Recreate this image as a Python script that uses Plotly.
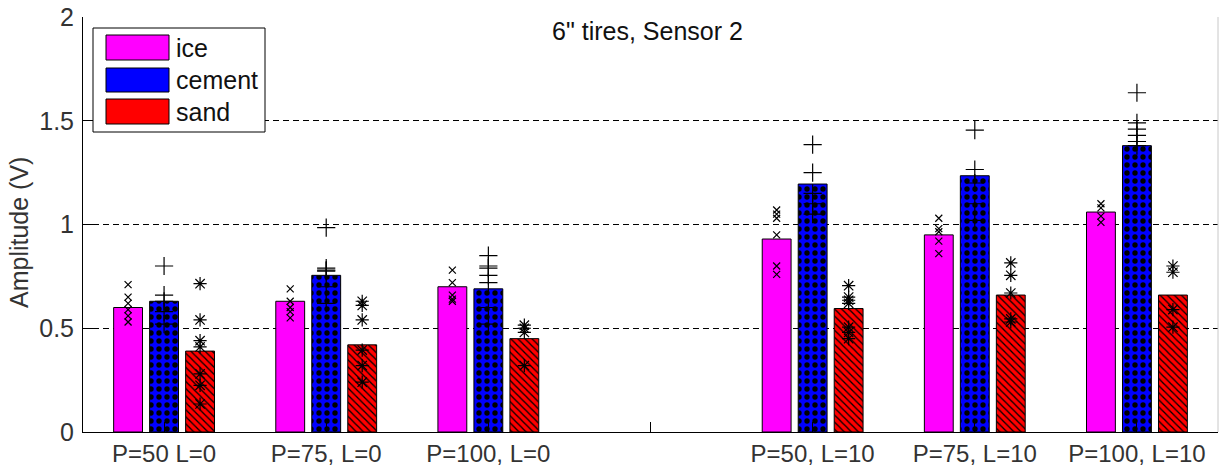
import plotly.graph_objects as go

# Test conditions (tire pressure P, load L) and surfaces
conditions = ["P=50 L=0", "P=75, L=0", "P=100, L=0",
              "P=50, L=10", "P=75, L=10", "P=100, L=10"]
surfaces = ["ice", "cement", "sand"]

# Mean amplitude per condition (V)
ice_mean = [0.60, 0.63, 0.70, 0.93, 0.95, 1.06]
cement_mean = [0.63, 0.755, 0.69, 1.195, 1.235, 1.38]
sand_mean = [0.39, 0.42, 0.45, 0.595, 0.66, 0.66]

# Individual runs per condition (V)
ice_runs = [
    [0.71, 0.65, 0.62, 0.59, 0.56, 0.53],
    [0.69, 0.63, 0.60, 0.58, 0.55],
    [0.78, 0.72, 0.66, 0.64, 0.63],
    [1.07, 1.05, 1.03, 0.95, 0.80, 0.76],
    [1.03, 0.98, 0.965, 0.92, 0.86],
    [1.10, 1.08, 1.04, 1.01],
]
cement_runs = [
    [0.80, 0.66, 0.63, 0.58, 0.52],
    [0.985, 0.79, 0.78, 0.775, 0.70, 0.62],
    [0.85, 0.80, 0.79, 0.755, 0.72, 0.60, 0.52],
    [1.385, 1.25, 1.15, 1.10, 1.05],
    [1.455, 1.265, 1.20, 1.10, 1.02],
    [1.635, 1.49, 1.46, 1.43, 1.40, 1.38],
]
sand_runs = [
    [0.715, 0.54, 0.44, 0.41, 0.28, 0.225, 0.135],
    [0.63, 0.61, 0.54, 0.395, 0.32, 0.24],
    [0.515, 0.50, 0.48, 0.32],
    [0.705, 0.65, 0.635, 0.62, 0.505, 0.48, 0.45],
    [0.815, 0.755, 0.67, 0.545, 0.53],
    [0.80, 0.77, 0.59, 0.505],
]

means = [ice_mean, cement_mean, sand_mean]
runs = [ice_runs, cement_runs, sand_runs]

# Axis slots: three unloaded groups, an empty slot, three loaded groups
slots = [i + 1 if i < 3 else i + 2 for i in range(len(conditions))]
n_slots = len(conditions) + 1

FONT = "Liberation Sans, Arial, sans-serif"
colors = ["#FF00FF", "#0000FF", "#FF0000"]
patterns = [
    dict(shape=""),
    dict(shape=".", fillmode="replace", bgcolor="#0000FF", fgcolor="black",
         size=8, solidity=0.35),
    dict(shape="\\", fillmode="replace", bgcolor="#FF0000", fgcolor="black",
         size=5, solidity=0.25),
]
symbols = ["x-thin-open", "cross-thin-open", "asterisk-open"]
sym_sizes = [7, 13, 11]

spacing = 0.222
bar_w = 0.178

fig = go.Figure()
for k, name in enumerate(surfaces):
    shift = (k - 1) * spacing
    fig.add_trace(go.Bar(
        x=slots, y=means[k], name=name, width=bar_w,
        offset=shift - bar_w / 2,
        marker=dict(color=colors[k], line=dict(color="black", width=1),
                    pattern=patterns[k]),
        showlegend=False,
    ))

for k, name in enumerate(surfaces):
    shift = (k - 1) * spacing
    xs, ys = [], []
    for s, vals in zip(slots, runs[k]):
        xs += [s + shift] * len(vals)
        ys += vals
    fig.add_trace(go.Scatter(
        x=xs, y=ys, mode="markers", showlegend=False,
        marker=dict(symbol=symbols[k], size=sym_sizes[k], color="black",
                    line=dict(color="black", width=1.2)),
    ))

tickvals = list(range(1, n_slots + 1))
ticktext = []
for v in tickvals:
    ticktext.append(conditions[slots.index(v)] if v in slots else "")

# Plot area in pixels (for placing the hand-built legend)
L, R, T, B = 83, 1218, 17, 432
W, H = 1225, 467


def px(x):
    return (x - L) / (R - L)


def py(y):
    return (B - y) / (B - T)


fig.update_layout(
    width=W, height=H,
    margin=dict(l=L, r=W - R, t=T, b=H - B, autoexpand=False),
    barmode="overlay",
    plot_bgcolor="white", paper_bgcolor="white",
    font=dict(family=FONT, size=24, color="#333333"),
    xaxis=dict(range=[0.5, n_slots + 0.5], tickvals=tickvals, ticktext=ticktext,
               ticks="inside", ticklen=10, tickcolor="black",
               showline=True, linecolor="black", linewidth=1,
               showgrid=False, zeroline=False, ticklabelstandoff=0,
               automargin=False,
               tickfont=dict(family=FONT, size=24, color="#333333")),
    yaxis=dict(range=[0, 2], tickvals=[0, 0.5, 1, 1.5, 2],
               ticktext=["0", "0.5", "1", "1.5", "2"],
               ticks="inside", ticklen=10, tickcolor="black",
               showline=True, linecolor="black", linewidth=1,
               showgrid=True, gridcolor="black", griddash="6px,4px", gridwidth=1,
               zeroline=False, ticklabelstandoff=3, automargin=False,
               tickfont=dict(family=FONT, size=25, color="#333333")),
    showlegend=False,
)

# Right border
fig.add_shape(type="line", xref="paper", yref="paper", x0=1, x1=1, y0=0, y1=1,
              line=dict(color="#c8c8c8", width=1))

# Title inside the axes
fig.add_annotation(text="6\" tires, Sensor 2", xref="paper", yref="paper",
                   x=px(647), y=py(31), xanchor="center", yanchor="middle",
                   showarrow=False,
                   font=dict(family=FONT, size=25, color="#111111"))

# Y axis label
fig.add_annotation(text="Amplitude (V)", xref="paper", yref="paper",
                   x=px(19), y=py(233), xanchor="center", yanchor="middle",
                   textangle=-90, showarrow=False,
                   font=dict(family=FONT, size=25, color="#333333"))

# Legend box with solid swatches
fig.add_shape(type="rect", xref="paper", yref="paper",
              x0=px(93), x1=px(265), y0=py(132), y1=py(28),
              fillcolor="white", line=dict(color="black", width=1), layer="above")
swatch_rows = [(35, 60), (68, 92), (99, 124)]
for k, name in enumerate(surfaces):
    y_top, y_bot = swatch_rows[k]
    fig.add_shape(type="rect", xref="paper", yref="paper",
                  x0=px(106), x1=px(169), y0=py(y_bot), y1=py(y_top),
                  fillcolor=colors[k], line=dict(color="black", width=1),
                  layer="above")
    fig.add_annotation(text=name, xref="paper", yref="paper",
                       x=px(174), y=py((y_top + y_bot) / 2),
                       xanchor="left", yanchor="middle", showarrow=False,
                       font=dict(family=FONT, size=25, color="#111111"))

fig.write_html("out.html")
